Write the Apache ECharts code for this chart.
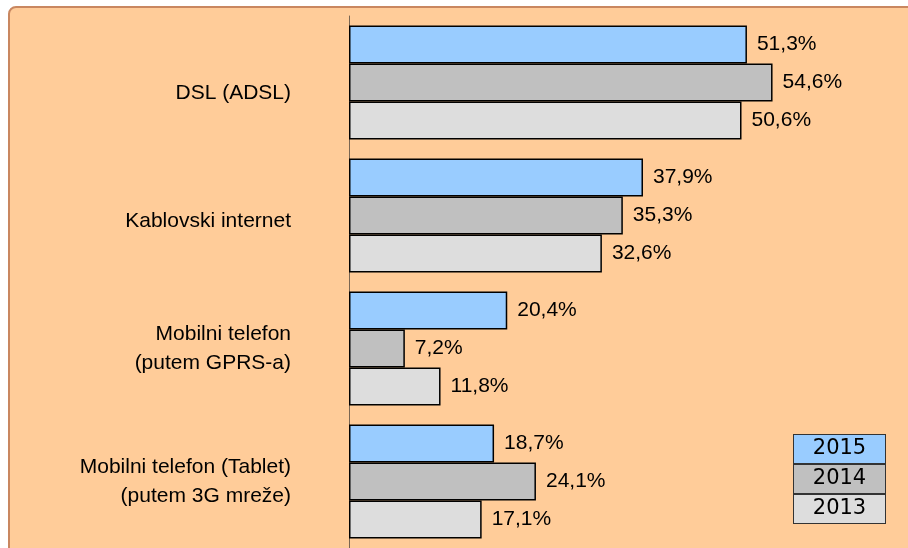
<!DOCTYPE html>
<html>
<head>
<meta charset="utf-8">
<script src="https://cdn.jsdelivr.net/npm/echarts@6/dist/echarts.min.js"></script>
<style>
  html, body { margin: 0; padding: 0; background: #fff; }
  .wrap { position: relative; width: 908px; height: 548px; overflow: hidden; }
  .frame {
    position: absolute; left: 8px; top: 6px; width: 940px; height: 580px;
    background: #ffcc99; border: 2px solid #c98760; border-radius: 8px;
  }
  #main { position: absolute; left: 0; top: 0; width: 908px; height: 548px; }
</style>
</head>
<body>
<div class="wrap">
  <div class="frame"></div>
  <div id="main"></div>
</div>
<script>
// kategorije (odozgo nadole)
var categories = [
  "DSL (ADSL)",
  "Kablovski internet",
  "Mobilni telefon\n(putem GPRS-a)",
  "Mobilni telefon (Tablet)\n(putem 3G mreže)"
];
var years = ["2015", "2014", "2013"];
var values2015 = [51.3, 37.9, 20.4, 18.7];
var values2014 = [54.6, 35.3, 7.2, 24.1];
var values2013 = [50.6, 32.6, 11.8, 17.1];

var colors = { "2015": "#99ccff", "2014": "#c0c0c0", "2013": "#dddddd" };
var seriesData = { "2015": values2015, "2014": values2014, "2013": values2013 };

var myChart = echarts.init(document.getElementById("main"));

function makeSeries(y) {
  return {
    name: y,
    type: "bar",
    data: seriesData[y],
    barCategoryGap: "14.3%",
    barGap: "0%",
    itemStyle: { color: colors[y], borderColor: "#000", borderWidth: 1.5 },
    label: {
      show: true,
      position: "right",
      distance: 10,
      color: "#000",
      fontSize: 21,
      fontFamily: "Liberation Sans, Arial",
      formatter: function (p) {
        return p.value.toFixed(1).replace(".", ",") + "%";
      }
    }
  };
}

var legendRich = {};
years.forEach(function (y) {
  legendRich["y" + y] = {
    backgroundColor: colors[y],
    borderColor: "#333",
    borderWidth: 1,
    width: 91,
    height: 28,
    lineHeight: 28,
    align: "center",
    fontSize: 21,
    fontFamily: "DejaVu Sans",
    color: "#000"
  };
});

var catFont = { fontSize: 21, fontFamily: "Liberation Sans, Arial", color: "#000" };

myChart.setOption({
  backgroundColor: "transparent",
  animation: false,
  grid: { left: 349, right: 16, top: 16, bottom: 0, containLabel: false },
  legend: {
    orient: "vertical",
    left: 788,
    top: 434,
    padding: 0,
    itemGap: 0,
    itemWidth: 0,
    itemHeight: 0,
    icon: "rect",
    data: years,
    formatter: function (name) {
      return "{y" + name + "|" + name + "}";
    },
    textStyle: { rich: legendRich }
  },
  xAxis: {
    type: "value",
    min: 0,
    max: 70,
    show: false
  },
  yAxis: {
    type: "category",
    inverse: true,
    data: categories,
    axisLine: { show: true, lineStyle: { color: "#7a6652", width: 1 } },
    axisTick: { show: false },
    axisLabel: {
      margin: 58,
      align: "right",
      formatter: function (v, i) {
        var key = i === 0 ? "a" : (i === 1 ? "b" : "c");
        return v.split("\n").map(function (s) {
          return "{" + key + "|" + s + "}";
        }).join("\n");
      },
      rich: {
        a: Object.assign({ padding: [22, 0, 0, 0] }, catFont),
        b: Object.assign({ padding: [12, 0, 0, 0] }, catFont),
        c: Object.assign({ lineHeight: 29 }, catFont)
      }
    }
  },
  series: years.map(makeSeries)
});
</script>
</body>
</html>
